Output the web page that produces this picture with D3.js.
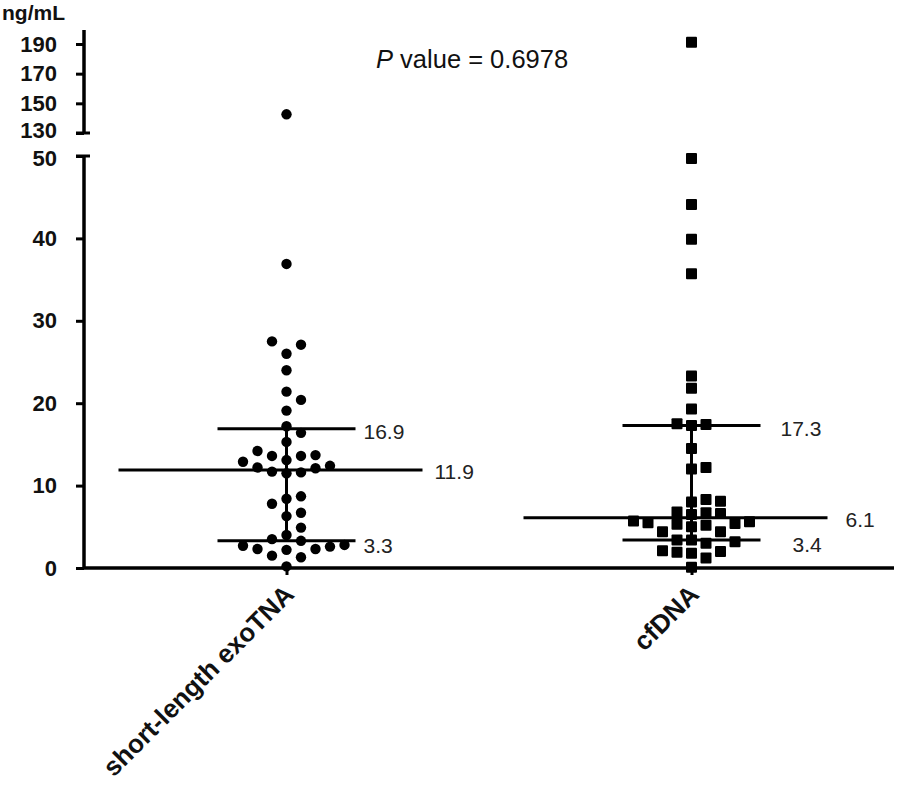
<!DOCTYPE html>
<html>
<head>
<meta charset="utf-8">
<script src="https://cdn.jsdelivr.net/npm/d3@7"></script>
<style>
  html, body { margin: 0; padding: 0; background: #fff; }
  svg { display: block; }
</style>
</head>
<body>
<svg id="chart" width="898" height="800"></svg>
<script>
// ---------------- DATA ----------------
const categories = ["short-length exoTNA", "cfDNA"];
const exoTNA = [142.6, 36.9, 27.5, 27.1, 26.0, 24.0, 21.4, 20.4, 19.1, 17.2, 16.4, 15.3,
  14.2, 13.7, 13.6, 13.6, 13.1, 12.9, 12.4, 12.2, 12.1, 11.7, 11.6, 11.5,
  8.7, 8.4, 7.8, 6.7, 6.3, 4.9, 4.0, 3.5, 3.3, 2.8, 2.7, 2.6, 2.3, 2.3, 2.2, 1.5, 1.3, 0.2];
const cfDNA = [191.2, 49.7, 44.1, 39.9, 35.7, 23.3, 21.8, 19.3, 17.5, 17.4, 17.3, 14.5,
  12.2, 12.0, 8.3, 8.1, 8.0, 6.8, 6.7, 6.6, 6.5, 5.7, 5.6, 5.5, 5.4, 5.3, 5.2, 5.0,
  4.4, 4.4, 3.4, 3.4, 3.2, 3.0, 2.1, 2.0, 1.9, 1.8, 1.2, 0.1];
const medians = [11.9, 6.1];
const q1s = [3.3, 3.4];
const q3s = [16.9, 17.3];
const lowerTicks = [0, 10, 20, 30, 40, 50];
const upperTicks = [130, 150, 170, 190];
const unitLabel = "ng/mL";
const pValue = "0.6978";

// ---------------- LAYOUT ----------------
const svg = d3.select("#chart");
const axisX = 84, xEnd = 894;
const lowerDomain = [0, 50], lowerRange = [568, 156];
const upperDomain = [130, 190], upperRange = [133, 44];
const upperTop = 30;
const FONT = "'Liberation Sans', Arial, Helvetica, sans-serif";

const x = d3.scalePoint().domain(categories).range([axisX, xEnd]).padding(0.5);
const yLow = d3.scaleLinear().domain(lowerDomain).range(lowerRange);
const yUp = d3.scaleLinear().domain(upperDomain).range(upperRange);
const yv = v => v <= 50 ? yLow(v) : yUp(v);

const stroke = "#000";

// Y axis lower segment
const gLow = svg.append("g").attr("transform", `translate(${axisX},0)`)
  .call(d3.axisLeft(yLow).tickValues(lowerTicks).tickSize(8).tickPadding(19));
// Y axis upper segment
const gUp = svg.append("g").attr("transform", `translate(${axisX},0)`)
  .call(d3.axisLeft(yUp).tickValues(upperTicks).tickSize(8).tickPadding(19));
[gLow, gUp].forEach(g => {
  g.select(".domain").remove();
  g.selectAll(".tick line").attr("stroke", stroke).attr("stroke-width", 3);
  g.selectAll(".tick text").attr("font-family", FONT).attr("font-size", 22)
    .attr("font-weight", "bold").attr("fill", "#111");
});
// keep the two labels at the break apart
gUp.selectAll(".tick text").filter(d => d === 130).attr("dy", "0.2em");
gLow.selectAll(".tick text").filter(d => d === 50).attr("dy", "0.42em");

// axis lines
svg.append("line").attr("x1", axisX).attr("x2", axisX)
  .attr("y1", yLow(50)).attr("y2", yLow(0)).attr("stroke", stroke).attr("stroke-width", 3.5);
svg.append("line").attr("x1", axisX).attr("x2", axisX)
  .attr("y1", upperTop).attr("y2", yUp(130)).attr("stroke", stroke).attr("stroke-width", 3.5);
// break caps
[yUp(130), yLow(50)].forEach(yy => {
  svg.append("line").attr("x1", axisX - 8).attr("x2", axisX + 6)
    .attr("y1", yy).attr("y2", yy).attr("stroke", stroke).attr("stroke-width", 3);
});

// X axis
svg.append("line").attr("x1", axisX).attr("x2", xEnd)
  .attr("y1", yLow(0)).attr("y2", yLow(0)).attr("stroke", stroke).attr("stroke-width", 3.5);
const gX = svg.append("g").attr("transform", `translate(0,${yLow(0)})`)
  .call(d3.axisBottom(x).tickSize(7).tickFormat(""));
gX.select(".domain").remove();
gX.selectAll(".tick line").attr("stroke", stroke).attr("stroke-width", 3);

// X labels
categories.forEach(c => {
  svg.append("text")
    .attr("transform", `translate(${x(c) + 9},${yLow(0) + 28}) rotate(-45)`)
    .attr("text-anchor", "end")
    .attr("font-family", FONT).attr("font-size", 26).attr("font-weight", "bold")
    .attr("fill", "#111")
    .text(c);
});

// unit label
svg.append("text").attr("x", 2).attr("y", 20)
  .attr("font-family", FONT).attr("font-size", 21).attr("font-weight", "bold")
  .attr("fill", "#111").text(unitLabel);

// P value
const pt = svg.append("text").attr("x", 376).attr("y", 68)
  .attr("font-family", FONT).attr("font-size", 25.5).attr("fill", "#111");
pt.append("tspan").attr("font-style", "italic").text("P");
pt.append("tspan").text(" value = " + pValue);

// ---------------- SUMMARY LINES ----------------
const medHalfL = 168, medHalfR = 136, iqrHalf = 69;
const labelStyle = sel => sel.attr("font-family", FONT).attr("font-size", 21)
  .attr("fill", "#222").attr("dominant-baseline", "central");
const medLabelGap = [12, 18], q3LabelGap = [8, 20], q1LabelGap = [8, 32];

categories.forEach((c, i) => {
  const cx = x(c);
  svg.append("line").attr("x1", cx).attr("x2", cx)
    .attr("y1", yLow(q1s[i])).attr("y2", yLow(q3s[i]))
    .attr("stroke", stroke).attr("stroke-width", 3);
  svg.append("line").attr("x1", cx - medHalfL).attr("x2", cx + medHalfR)
    .attr("y1", yLow(medians[i])).attr("y2", yLow(medians[i]))
    .attr("stroke", stroke).attr("stroke-width", 3);
  [q1s[i], q3s[i]].forEach(q => {
    svg.append("line").attr("x1", cx - iqrHalf).attr("x2", cx + iqrHalf)
      .attr("y1", yLow(q)).attr("y2", yLow(q))
      .attr("stroke", stroke).attr("stroke-width", 3);
  });
  labelStyle(svg.append("text").attr("x", cx + medHalfR + medLabelGap[i])
    .attr("y", yLow(medians[i]) + 2)).text(medians[i].toFixed(1));
  labelStyle(svg.append("text").attr("x", cx + iqrHalf + q3LabelGap[i])
    .attr("y", yLow(q3s[i]) + 3)).text(q3s[i].toFixed(1));
  labelStyle(svg.append("text").attr("x", cx + iqrHalf + q1LabelGap[i])
    .attr("y", yLow(q1s[i]) + 5)).text(q1s[i].toFixed(1));
});

// ---------------- POINTS (column scatter) ----------------
function columnScatter(values, step, gap) {
  const placed = [];
  const sorted = values.map(v => ({ v, y: yv(v) })).sort((a, b) => a.v - b.v);
  const order = [0, 1, -1, 2, -2, 3, -3, 4, -4, 5, -5, 6, -6];
  sorted.forEach(p => {
    for (const k of order) {
      const clash = placed.some(q => q.k === k && Math.abs(q.y - p.y) < gap);
      if (!clash) { p.k = k; placed.push(p); break; }
    }
  });
  return placed.map(p => ({ v: p.v, y: p.y, dx: p.k * step }));
}

const exoPts = columnScatter(exoTNA, 14.5, 13);
svg.append("g").selectAll("circle").data(exoPts).join("circle")
  .attr("cx", d => x(categories[0]) + d.dx)
  .attr("cy", d => d.y)
  .attr("r", 5.2)
  .attr("fill", "#000");

const cfPts = columnScatter(cfDNA, 14.5, 12);
const sq = 11;
svg.append("g").selectAll("rect").data(cfPts).join("rect")
  .attr("x", d => x(categories[1]) + d.dx - sq / 2)
  .attr("y", d => d.y - sq / 2)
  .attr("width", sq).attr("height", sq)
  .attr("rx", 1)
  .attr("fill", "#000");
</script>
</body>
</html>
